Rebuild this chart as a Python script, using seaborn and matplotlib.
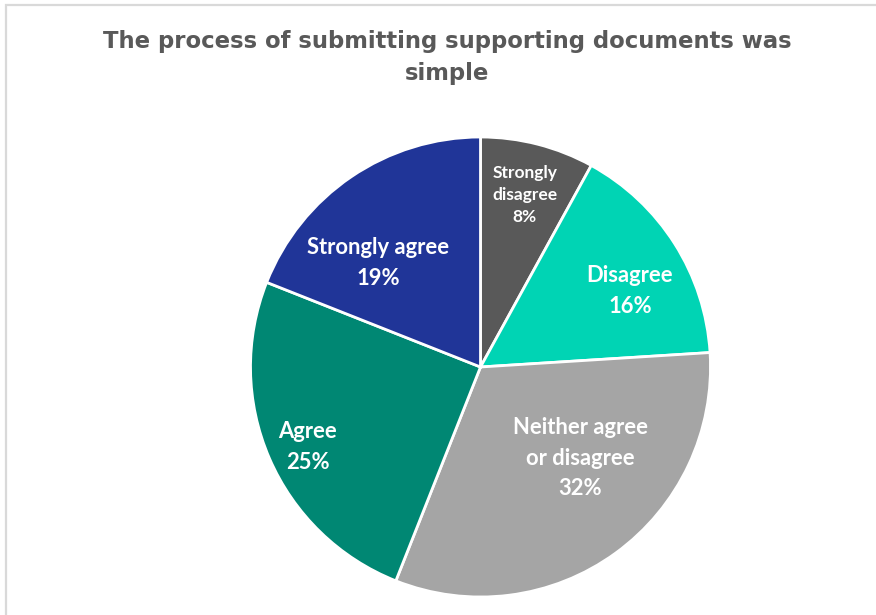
import matplotlib
matplotlib.use("Agg")
import matplotlib.pyplot as plt
from matplotlib.patches import Rectangle
import seaborn as sns

# Survey responses, drawn clockwise from 12 o'clock
categories = ["Strongly disagree", "Disagree", "Neither agree or disagree", "Agree", "Strongly agree"]
shares = [8, 16, 32, 25, 19]
label_lines = ["Strongly\ndisagree", "Disagree", "Neither agree\nor disagree", "Agree", "Strongly agree"]
colors = ["#595959", "#00D4B4", "#A5A5A5", "#008773", "#203598"]

sns.set_theme(style="white")

fig = plt.figure(figsize=(8.76, 6.15), dpi=100)
W, H = 876, 615

# light frame around the chart area
fig.patches.append(Rectangle((6 / W, -0.05), 1.2, (610 / H) + 0.05,
                             transform=fig.transFigure, fill=False,
                             edgecolor="#D9D9D9", linewidth=1.6))

cx, cy, r = 480.5, 367, 230
ax = fig.add_axes([(cx - r) / W, (H - cy - r) / H, 2 * r / W, 2 * r / H])
wedges, _ = ax.pie(shares, colors=colors, startangle=90, counterclock=False,
                   radius=1.0,
                   wedgeprops=dict(edgecolor="white", linewidth=2.0))
ax.set_xlim(-1, 1)
ax.set_ylim(-1, 1)
ax.set_aspect("equal")
ax.axis("off")

# label anchors inside each slice (unit-radius coordinates)
label_pos = [(0.193, 0.748), (0.65, 0.33), (0.433, -0.396), (-0.75, -0.348), (-0.446, 0.452)]
label_size = [12.5, 15.8, 15.8, 15.8, 15.8]
label_gap = [1.45, 1.55, 1.55, 1.55, 1.55]
for txt, val, (x, y), fs, ls in zip(label_lines, shares, label_pos, label_size, label_gap):
    ax.text(x, y, f"{txt}\n{val}%", ha="center", va="center", color="white",
            fontsize=fs, fontweight="bold", family="Lato", linespacing=ls)

fig.text(447 / W, 1 - 57.5 / H, "The process of submitting supporting documents was\nsimple",
         ha="center", va="center", color="#595959", fontsize=16.4,
         fontweight="bold", family="DejaVu Sans", linespacing=1.45)

fig.savefig("out.png", dpi=100, facecolor="white")
